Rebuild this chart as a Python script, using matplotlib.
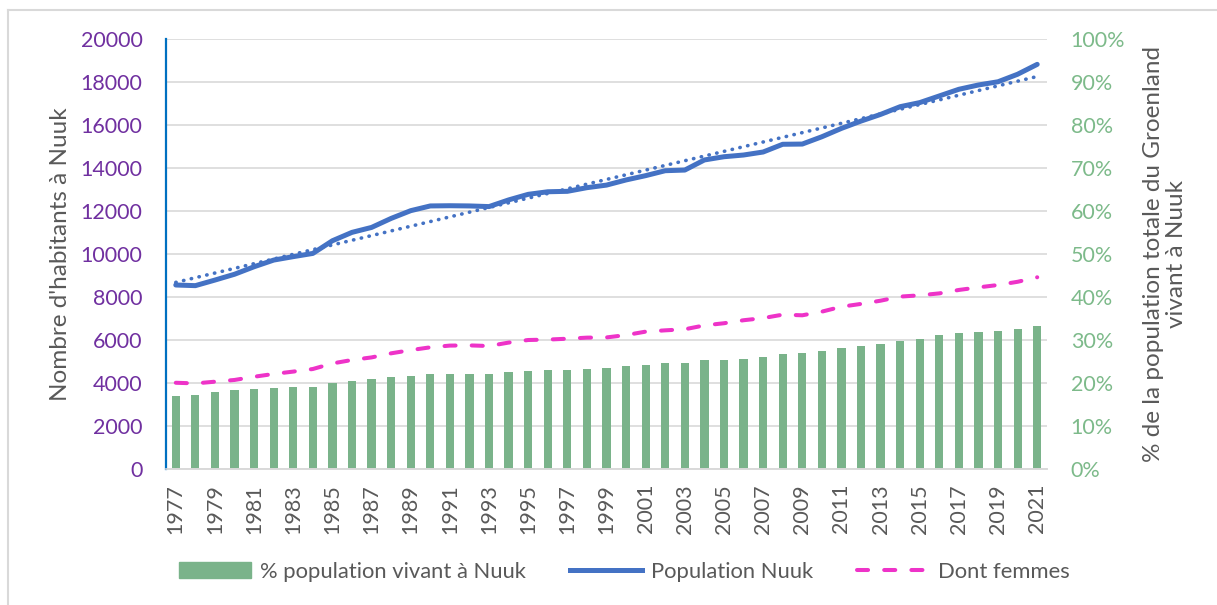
import numpy as np
import matplotlib.pyplot as plt
from matplotlib.lines import Line2D

plt.rcParams['font.family'] = ['Lato', 'DejaVu Sans']

years = list(range(1977, 2022))

# % de la population totale du Groenland vivant a Nuuk
pct_nuuk = [17.0, 17.2, 17.8, 18.2, 18.5, 18.8, 18.9, 19.0, 19.9, 20.5,
            20.8, 21.3, 21.6, 22.0, 22.0, 22.0, 22.0, 22.5, 22.7, 23.0,
            23.0, 23.2, 23.4, 23.8, 24.2, 24.5, 24.5, 25.2, 25.3, 25.6,
            25.9, 26.6, 26.9, 27.3, 28.0, 28.5, 29.1, 29.8, 30.3, 31.0,
            31.5, 31.8, 32.1, 32.6, 33.3]

# population de Nuuk
pop_nuuk = [8550, 8520, 8780, 9050, 9400, 9710, 9870, 10020, 10610, 11000,
            11230, 11650, 12010, 12230, 12240, 12230, 12200, 12510, 12770, 12890,
            12910, 13080, 13200, 13440, 13640, 13870, 13900, 14370, 14520, 14600,
            14740, 15100, 15110, 15450, 15840, 16180, 16490, 16850, 17040, 17350,
            17660, 17860, 18010, 18360, 18820]

# dont femmes
pop_femmes = [4000, 3970, 4050, 4130, 4280, 4410, 4520, 4640, 4900, 5060,
              5180, 5370, 5520, 5650, 5730, 5740, 5710, 5870, 5990, 6010,
              6050, 6100, 6110, 6220, 6380, 6440, 6490, 6670, 6770, 6910,
              7010, 7170, 7140, 7310, 7540, 7670, 7820, 8010, 8070, 8160,
              8320, 8440, 8550, 8700, 8910]

label_bars = '% population vivant à Nuuk'
label_pop = 'Population Nuuk'
label_fem = 'Dont femmes'

#-----------------------------------------------------------------------------------------#

green = '#7AB38A'
blue = '#4472C4'
pink = '#EE33C8'
grey_txt = '#595959'
fs = 15.5
dash_fem = (0, (2.75, 4))

fig = plt.figure(figsize=(12.17, 6.05), dpi=100)
ax2 = fig.add_axes([166 / 1217, 1 - 468.7 / 605, (1047 - 166) / 1217, (468.7 - 39) / 605])
ax = ax2.twinx()
ax.set_zorder(ax2.get_zorder() + 1)
ax.patch.set_visible(False)

x = np.arange(len(years))

# bars on the right axis
ax2.bar(x, pct_nuuk, width=0.42, color=green, zorder=2)
ax2.set_ylim(0, 100)
ax2.set_yticks(np.arange(0, 101, 10))
ax2.grid(axis='y', color='#D9D9D9', linewidth=1.2, zorder=0)
ax2.set_axisbelow(True)

# lines on the left axis
ax.plot(x, pop_nuuk, color=blue, linewidth=3.6, solid_capstyle='round', solid_joinstyle='round')
coef = np.polyfit(x, pop_nuuk, 1)  # linear trendline
ax.plot(x, np.polyval(coef, x), color=blue, linewidth=2.6, linestyle=(0, (0.1, 2.1)),
        dash_capstyle='round')
ax.plot(x, pop_femmes, color=pink, linewidth=2.9, linestyle=dash_fem, dash_capstyle='round')
ax.set_ylim(0, 20000)
ax.set_yticks(np.arange(0, 20001, 2000))
ax.set_xlim(-0.5, len(years) - 0.5)

# the twin axis puts its labels on the right by default: swap sides
ax.yaxis.tick_left()
ax.yaxis.set_label_position('left')
ax2.yaxis.tick_right()
ax2.yaxis.set_label_position('right')

ax.tick_params(axis='y', colors='#7030A0', labelsize=fs, length=0, pad=17)
ax2.tick_params(axis='y', colors='#7DBA8A', labelsize=fs, length=0, pad=17)
ax2.set_yticklabels([f'{v}%' for v in range(0, 101, 10)])
ax2.set_xticks(x[::2])
ax2.set_xticklabels([str(y) for y in years[::2]], rotation=90)
ax2.tick_params(axis='x', colors=grey_txt, labelsize=fs, length=0, pad=11)
ax.tick_params(axis='x', length=0, labelbottom=False)

for a in (ax, ax2):
    for side in ('top', 'right', 'left'):
        a.spines[side].set_visible(False)
    a.spines['bottom'].set_color('#D9D9D9')
    a.spines['bottom'].set_linewidth(1.2)
ax.spines['left'].set_visible(True)
ax.spines['left'].set_color('#0070C0')
ax.spines['left'].set_linewidth(1.6)

ax.set_ylabel("Nombre d'habitants à Nuuk", fontsize=17.5, color=grey_txt, labelpad=7)
ax2.set_ylabel('% de la population totale du Groenland\nvivant à Nuuk', fontsize=17.5,
               color=grey_txt, labelpad=13, linespacing=1.1)

handles = [plt.Rectangle((0, 0), 1, 1, color=green),
           Line2D([], [], color=blue, linewidth=3.6),
           Line2D([], [], color=pink, linewidth=2.9, linestyle=dash_fem, dash_capstyle='round')]
fig.legend(handles, [label_bars, label_pop, label_fem], loc='center', ncol=3,
           bbox_to_anchor=(0.513, 0.055), frameon=False, fontsize=15.8,
           handlelength=3.3, handletextpad=0.4, columnspacing=2.0, labelcolor=grey_txt)

# chart area border
fig.add_artist(Line2D([8 / 1217, 8 / 1217], [0, 1 - 10 / 605], transform=fig.transFigure,
                      color='#D9D9D9', linewidth=1.5))
fig.add_artist(Line2D([8 / 1217, 1], [1 - 10 / 605, 1 - 10 / 605], transform=fig.transFigure,
                      color='#D9D9D9', linewidth=1.5))

plt.savefig('out.png', dpi=100)
